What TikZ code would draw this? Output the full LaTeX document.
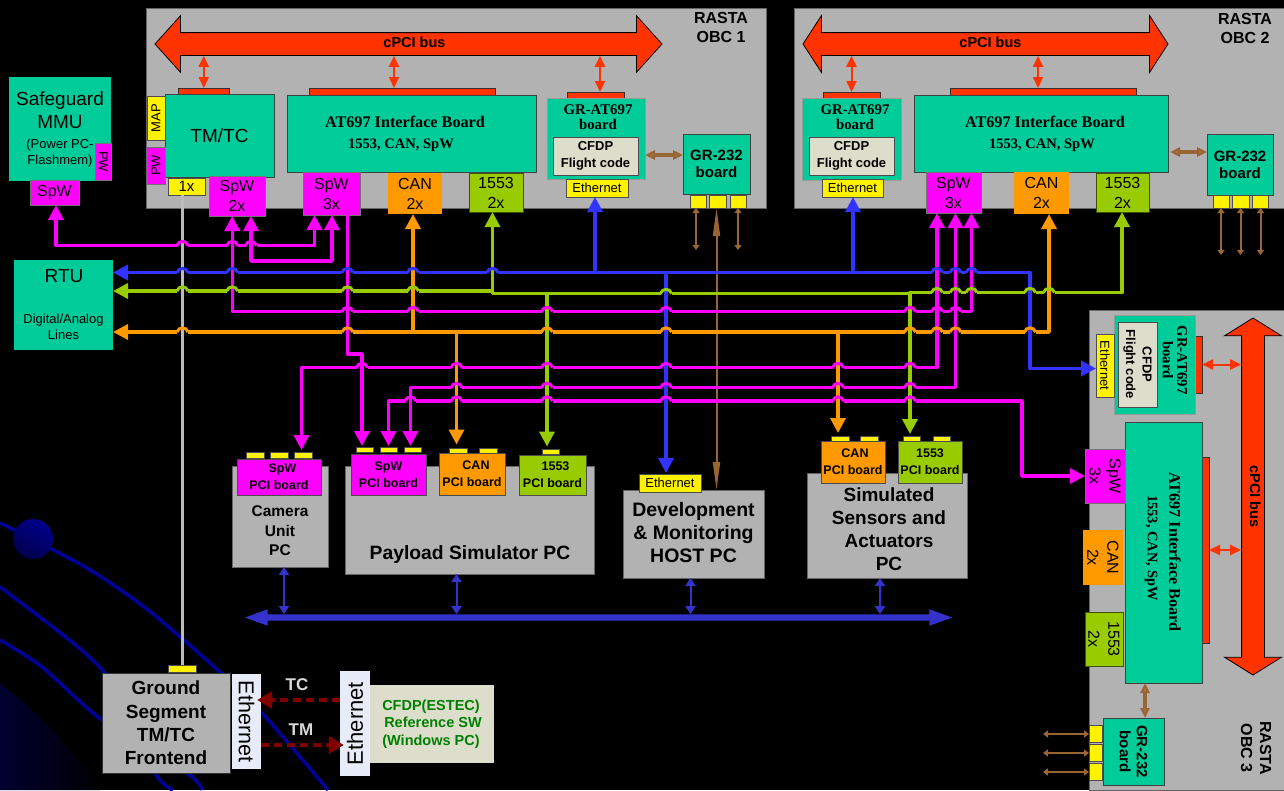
\documentclass[tikz,border=0pt]{standalone}
\usepackage{fontspec}
\usetikzlibrary{arrows.meta,shapes.arrows}
\setmainfont{Liberation Sans}
\newfontfamily\atfont{Liberation Serif}
\newcommand{\tsize}[2]{\fontsize{#1}{#2}\selectfont}
\definecolor{boardc}{HTML}{00CC99}
\definecolor{panelc}{HTML}{B2B2B2}
\definecolor{busc}{HTML}{FF3300}
\definecolor{magc}{HTML}{FF00FF}
\definecolor{orangec}{HTML}{FF9900}
\definecolor{limec}{HTML}{99CC00}
\definecolor{bluec}{HTML}{3333FF}
\definecolor{brownc}{HTML}{996633}
\definecolor{ethc}{HTML}{3333CC}
\definecolor{creamc}{HTML}{DDDDCC}
\definecolor{paperc}{HTML}{E8ECF8}
\definecolor{greyc}{HTML}{BBBBBB}
\definecolor{orbitc}{HTML}{000099}
\tikzset{wh/.style 2 args={minimum width=#1,minimum height=#2}}
% a horizontal line jumping over vertical ones: colour, y, list of x/colour
\newcommand{\hops}[3]{%
  \foreach \hx/\vc in {#3} {
    \fill[black] (\hx-5.5,#2-2.2) rectangle (\hx+5.5,#2+2.2);
    \draw[\vc, line width=3.5pt] (\hx,#2-3) -- (\hx,#2+3);
    \draw[#1, line width=3pt] (\hx-5.5,#2) .. controls (\hx-4,#2-5.5) and (\hx+4,#2-5.5) .. (\hx+5.5,#2);
  }}
\begin{document}
\begin{tikzpicture}[x=1pt, y=-1pt, >={Triangle[width=15pt,length=15pt]}, node distance=20pt]
    % Define node styles
    \tikzstyle{panel} = [rectangle, draw=black!60, fill=panelc, line width=.7pt, outer sep=0pt]
    \tikzstyle{board} = [rectangle, draw=black!75, fill=boardc, line width=.8pt, align=center, outer sep=0pt, inner sep=0pt]
    \tikzstyle{code} = [rectangle, draw=black!70, fill=creamc, line width=.8pt, align=center, inner sep=0pt, outer sep=0pt, font=\tsize{13}{16.5}\bfseries]
    \tikzstyle{magbox} = [rectangle, draw=black!55, fill=magc, line width=.6pt, align=center, inner sep=0pt, outer sep=0pt, font=\tsize{16}{20}]
    \tikzstyle{canbox} = [magbox, draw=none, fill=orangec]
    \tikzstyle{milbox} = [magbox, draw=black!60!limec, fill=limec]
    \tikzstyle{port} = [rectangle, draw=black!70, fill=yellow, line width=.6pt, inner sep=0pt, outer sep=0pt, font=\tsize{13}{15}]
    \tikzstyle{pcibox} = [magbox, draw=black!70, font=\tsize{12.5}{17}\bfseries]
    \tikzstyle{strip} = [rectangle, draw=black!80, fill=busc, line width=.8pt, inner sep=0pt, outer sep=0pt]
    \tikzstyle{bus} = [double arrow, draw=black, fill=busc, line width=.8pt, inner xsep=0pt, inner ysep=5pt, text height=9pt, text depth=3pt, double arrow head extend=17pt, font=\tsize{14.5}{15}\bfseries]
    \tikzstyle{lab} = [inner sep=0pt, align=center]
    \tikzstyle{atlab} = [lab, font=\atfont\tsize{16.2}{18}\bfseries]
    \tikzstyle{atsub} = [lab, font=\atfont\tsize{14.5}{16}\bfseries]
    \tikzstyle{grlab} = [lab, font=\atfont\tsize{14.8}{14.5}\bfseries]
    \tikzstyle{rastalab} = [lab, font=\tsize{16}{19}\bfseries]
    \tikzstyle{pclab} = [lab, font=\tsize{19}{23}\bfseries]
    \tikzstyle{line} = [line width=3.5pt, line join=round]
    \tikzstyle{redarrow} = [busc, line width=2pt, {Triangle[width=10pt,length=11pt]}-{Triangle[width=10pt,length=11pt]}]
    \tikzstyle{brownarrow} = [brownc, line width=2pt, {Triangle[width=7pt,length=5pt]}-{Triangle[width=7pt,length=5pt]}]
    \tikzstyle{brownfat} = [brownc, line width=3.5pt, {Triangle[width=9pt,length=10pt,open]}-{Triangle[width=9pt,length=10pt,open]}]
    \tikzstyle{etharrow} = [ethc, line width=2pt, {Triangle[width=10pt,length=8pt]}-{Triangle[width=10pt,length=8pt]}]
    \tikzstyle{darkline} = [line width=4pt, black!50!red, dash pattern=on 8pt off 5pt, -{Triangle[width=17pt,length=15pt]}, shorten >=-4pt]

    % Background
    \fill[black] (0,0) rectangle (1284,790);
    \useasboundingbox (0,0) rectangle (1284,790);
    \begin{scope}
      \clip (0,683) .. controls (40,715) and (75,750) .. (100,790) -- (0,790) -- cycle;
      \shade[shading angle=45, left color=black!78!blue, right color=black] (-20,680) rectangle (110,800);
    \end{scope}
    \draw[orbitc, line width=3.5pt] plot[smooth] coordinates {(0,523) (85,567) (148,610) (220,672) (262,713) (328,790)};
    \draw[orbitc, line width=3.5pt] plot[smooth] coordinates {(0,587) (85,653) (125,700) (155,773) (173,790)};
    \draw[orbitc, line width=3.5pt] plot[smooth] coordinates {(0,640) (42,667) (102,720) (187,773) (202,790)};
    \node[circle, minimum size=40pt, left color=black!45!blue, right color=black!70!blue, shading angle=-30] (planet) at (33,539) {};

    % OBC 1
    \node[panel, wh={620}{200}] (obca) at (456,108) {};
    \node[rastalab] (obcalab) at (721,27.5) {RASTA\\OBC 1};
    \node[bus, minimum height=507pt, double arrow tip angle=96] (busa) at (408.5,44) {\hspace*{12pt}cPCI bus};
    \node[strip, wh={51}{6}] (stripa) at (203.75,91) {};
    \node[strip, wh={186}{7}] (stripb) at (402,91.5) {};
    \node[strip, wh={57}{6}] (stripc) at (595.5,95) {};
    \node[board, wh={109}{83}, font=\tsize{19}{22}] (tmtc) at (219.5,135.5) {TM/TC};
    \node[port, wh={44}{18}, rotate=90] (mapport) at (156,118) {MAP};
    \node[magbox, wh={37}{18}, rotate=90, font=\tsize{13}{15}] (pwport) at (156,165.5) {PW};
    \node[port, wh={37}{17}, font=\tsize{15}{17}] (oneport) at (186.5,186.5) {1x};
    \node[magbox, wh={56}{40}] (spwa) at (237,196) {SpW\\2x};
    \node[board, wh={249}{77}] (ata) at (411.5,133.5) {};
    \node[atlab] (atalab) at (405,122) {AT697 Interface Board};
    \node[atsub] (atasub) at (401,145) {1553, CAN, SpW};
    \node[magbox, wh={57}{43}] (spwb) at (331.5,193.5) {SpW\\3x};
    \node[canbox, wh={54}{41}] (cana) at (415,193.5) {CAN\\2x};
    \node[milbox, wh={54}{39}] (mila) at (496,192.5) {1553\\2x};
    \node[board, wh={98}{81}, draw=black!40] (gra) at (596,138.5) {};
    \node[grlab] (gralab) at (598,117) {GR-AT697\\board};
    \node[code, wh={85}{38}] (cfdpa) at (595.5,156) {CFDP\\Flight code};
    \node[port, wh={62}{18}] (etha) at (597,188) {Ethernet};
    \node[board, wh={67}{60}, font=\tsize{15}{17}\bfseries] (serb) at (716.5,164) {GR-232\\board};
    \node[port, wh={16}{13}] (sera) at (698,201.5) {};
    \node[port, wh={17}{13}] (serc) [right of=sera] {};
    \node[port, wh={16}{13}] (serd) [right of=serc] {};

    % OBC 2
    \node[panel, wh={490}{200}] (obcb) at (1039,108) {};
    \node[rastalab] (obcblab) at (1245,28.5) {RASTA\\OBC 2};
    \node[bus, minimum height=365pt, double arrow tip angle=114] (busb) at (985.5,44) {\hspace*{10pt}cPCI bus};
    \node[strip, wh={57}{6}] (stripd) at (851.5,95) {};
    \node[strip, wh={186}{7}] (stripe) at (1043,91.5) {};
    \node[board, wh={99}{82}, draw=black!40] (grb) at (851.5,139) {};
    \node[grlab] (grblab) at (855,117) {GR-AT697\\board};
    \node[code, wh={85}{38}] (cfdpb) at (851.5,156) {CFDP\\Flight code};
    \node[port, wh={61}{18}] (ethb) at (852.5,188) {Ethernet};
    \node[board, wh={254}{77}] (atb) at (1041,133.5) {};
    \node[atlab] (atblab) at (1045,122) {AT697 Interface Board};
    \node[atsub] (atbsub) at (1042,145) {1553, CAN, SpW};
    \node[magbox, wh={55}{41}] (spwc) at (953.5,192.5) {SpW\\3x};
    \node[canbox, wh={55}{42}] (canb) at (1041.5,193) {CAN\\2x};
    \node[milbox, wh={53}{39}] (milb) at (1122.5,192.5) {1553\\2x};
    \node[board, wh={66}{61}, font=\tsize{15}{17}\bfseries] (serf) at (1240,164.5) {GR-232\\board};
    \node[port, wh={16}{13}] (sere) at (1221,201.5) {};
    \node[port, wh={17}{13}] (serg) [right of=sere, xshift=-.5pt] {};
    \node[port, wh={16}{13}] (serh) [right of=serg] {};

    % OBC 3
    \node[panel, wh={195}{480}] (obcc) at (1186.5,550) {};
    \node[rastalab, rotate=-90] (obcclab) at (1256,748) {RASTA\\OBC 3};
    \node[bus, rotate=-90, minimum height=357pt, double arrow tip angle=116] (busc) at (1253,496.5) {cPCI bus};
    \node[strip, wh={7}{57}] (stripf) at (1198.5,364.5) {};
    \node[strip, wh={7}{186}] (stripg) at (1205.5,550) {};
    \node[board, wh={99}{81}, rotate=-90, draw=black!40] (grc) at (1154.5,364.5) {};
    \node[grlab, rotate=-90] (grclab) at (1175,360) {GR-AT697\\board};
    \node[code, wh={85}{39}, rotate=-90] (cfdpc) at (1137.5,364.5) {CFDP\\Flight code};
    \node[port, wh={63}{18}, rotate=-90] (ethc) at (1105,365.5) {Ethernet};
    \node[board, wh={261}{77}, rotate=-90] (atc) at (1163.5,552.5) {};
    \node[atlab, rotate=-90] (atclab) at (1175,552) {AT697 Interface Board};
    \node[atsub, rotate=-90] (atcsub) at (1151,548) {1553, CAN, SpW};
    \node[magbox, wh={54}{40}, rotate=-90] (spwd) at (1105,476) {SpW\\3x};
    \node[canbox, wh={55}{40}, rotate=-90] (canc) at (1103,557.5) {CAN\\2x};
    \node[milbox, wh={54}{38}, rotate=-90] (milc) at (1104,639) {1553\\2x};
    \node[board, wh={67}{61}, rotate=-90, font=\tsize{15}{17}\bfseries] (serk) at (1133.5,751.5) {GR-232\\board};
    \node[port, wh={13}{17}] (seri) at (1095.5,734) {};
    \node[port, wh={13}{17}] (serj) at (1095.5,753) {};
    \node[port, wh={13}{17}] (serl) at (1095.5,772) {};

    % Safeguard and RTU
    \node[board, wh={102}{104}, draw=none, font=\tsize{19}{23}] (mmu) at (60,129) {Safeguard\\MMU\\[-3pt]{\tsize{13}{16}(Power PC-}\\[-7pt]{\tsize{13}{16}Flashmem)}};
    \node[magbox, wh={37}{15.5}, rotate=-90, font=\tsize{13}{15}] (mmupw) at (103.25,161.5) {PW};
    \node[magbox, wh={49}{25}] (mmuspw) at (54.5,192.5) {SpW};
    \node[board, wh={99}{90}, draw=none] (rtu) at (63.5,305) {};
    \node[lab, font=\tsize{19}{22}] (rtulab) at (64,276) {RTU};
    \node[lab, font=\tsize{13}{15.5}] (rtusub) at (63.5,327) {Digital/Analog\\Lines};

    % PCs
    \node[panel, wh={96}{101}] (campc) at (280,516.5) {};
    \node[pcibox, wh={84}{36}] (cambox) at (279,477) {\hspace*{7pt}SpW\\PCI board};
    \node[port, wh={18}{6}] (camporta) at (255,455) {};
    \node[port, wh={18}{6}] (camportb) [right of=camporta, xshift=4pt] {};
    \node[port, wh={18}{6}] (camportc) [right of=camportb, xshift=4pt] {};
    \node[pclab, font=\tsize{15.5}{19.5}\bfseries] (camlab) at (280,531) {Camera\\Unit\\PC};
    \node[panel, wh={249}{108}] (paypc) at (469.5,520) {};
    \node[pcibox, wh={75}{41}] (paybox) at (388.5,474.5) {SpW\\PCI board};
    \node[port, wh={17}{5}] (payporta) at (364.5,449.5) {};
    \node[port, wh={17}{5}] (payportb) [right of=payporta, xshift=4pt] {};
    \node[port, wh={17}{5}] (payportc) [right of=payportb, xshift=4pt] {};
    \node[pcibox, fill=orangec, wh={66}{42}] (paycan) at (472,474) {\hspace*{8pt}CAN\\PCI board};
    \node[port, wh={18}{5}] (paycanport) at (458,450.5) {};
    \node[port, wh={18}{5}] (paycanporb) at (488,450.5) {};
    \node[pcibox, fill=limec, wh={67}{40}] (paymil) at (552.5,475) {\hspace*{6pt}1553\\PCI board};
    \node[port, wh={17}{5}] (paymilport) at (550.5,451.5) {};
    \node[pclab, font=\tsize{19.3}{23}\bfseries] (paylab) at (470,555) {Payload Simulator PC};
    \node[panel, wh={141}{88}] (devpc) at (693.5,534) {};
    \node[port, wh={62}{18}] (deveth) at (670,483) {Ethernet};
    \node[pclab, font=\tsize{19.5}{23}\bfseries] (devlab) at (693.5,533) {Development\\\& Monitoring\\HOST PC};
    \node[panel, wh={160}{105}] (simpc) at (887,525.5) {};
    \node[pcibox, fill=orangec, wh={64}{42}] (simcan) at (853,462) {\hspace*{4pt}CAN\\PCI board};
    \node[port, wh={18}{5}] (simcanport) at (840,438.5) {};
    \node[port, wh={18}{5}] (simcanporb) at (869,438.5) {};
    \node[pcibox, fill=limec, wh={64}{42}] (simmil) at (930,462) {1553\\PCI board};
    \node[port, wh={17}{5}] (simmilport) at (911.5,438.5) {};
    \node[port, wh={17}{5}] (simmilporb) at (941.5,438.5) {};
    \node[pclab] (simlab) at (889,529.5) {Simulated\\Sensors and\\Actuators\\PC};
    \node[double arrow, fill=ethc, inner sep=3pt, double arrow head extend=5pt, double arrow tip angle=40, minimum height=707pt] (ethbus) at (598.5,617.5) {};

    % Ground segment
    \node[panel, wh={128}{100}, draw=black!80, font=\tsize{19}{23.3}\bfseries, align=center, inner sep=0pt] (ground) at (166,723) {Ground\\Segment\\TM/TC\\Frontend};
    \node[port, wh={28}{7}] (groundport) at (182.5,668.5) {};
    \node[lab, rectangle, fill=paperc, wh={95}{29}, rotate=-90, font=\tsize{21.5}{23}] (ethl) at (246.5,721.5) {Ethernet};
    \node[code, fill=creamc, draw=none, wh={126}{78}, text=green!50!black, font=\tsize{14.5}{17.5}\bfseries] (refsw) at (431,724) {CFDP(ESTEC)\\\hspace*{4pt}Reference SW\\(Windows PC)};
    \node[lab, rectangle, fill=paperc, wh={105}{30}, rotate=90, font=\tsize{22}{24}] (ethr) at (355,723.5) {Ethernet};
    \node[lab, text=black!15, font=\tsize{17}{19}\bfseries] (tclab) at (297,685) {TC};
    \node[lab, text=black!15, font=\tsize{17}{19}\bfseries] (tmlab) at (301,730) {TM};

    % Junctions and free ends
    \coordinate (bluea) at (595,272.5);
    \coordinate (blueb) at (853,272.5);
    \coordinate (bluec) at (666,272.5);
    \coordinate (limea) at (492.5,291);
    \coordinate (limeb) at (547,293.5);
    \coordinate (limec) at (910,293.5);
    \coordinate (orangea) at (413,332);
    \coordinate (orangeb) at (456.5,332);
    \coordinate (orangec) at (838,332);
    \coordinate (freea) at (696,250);
    \coordinate (freeb) at (738,250);
    \coordinate (freec) at (1221,255);
    \coordinate (freed) at (1240.5,255);
    \coordinate (freee) at (1260.5,255);
    \coordinate (freef) at (1043,734);
    \coordinate (freeg) at (1043,753);
    \coordinate (freeh) at (1043,772);

    % Edges (cPCI)
    \draw[redarrow] (stripa.north) -- (stripa.north |- busa.south);
    \draw[redarrow] ([xshift=-8pt]stripb.north) -- ([xshift=-8pt]stripb.north |- busa.south);
    \draw[redarrow] ([xshift=4.5pt]stripc.north) -- ([xshift=4.5pt]stripc.north |- busa.south);
    \draw[redarrow] (stripd.north) -- (stripd.north |- busb.south);
    \draw[redarrow] ([xshift=-5pt]stripe.north) -- ([xshift=-5pt]stripe.north |- busb.south);
    \draw[redarrow] (stripf.east) -- (stripf.east -| busc.south);
    \draw[redarrow] (stripg.east) -- (stripg.east -| busc.south);

    % Edges (brown)
    \draw[brownfat] ([yshift=-16.5pt]gra.east) -- ([yshift=9pt]serb.west);
    \draw[brownfat] ([xshift=2pt,yshift=-18.5pt]atb.east) -- ([yshift=12.5pt]serf.west);
    \draw[brownfat] ([xshift=-18.5pt]atc.east) -- ([xshift=11.5pt]serk.west);
    \draw[brownarrow] ([xshift=-2pt]sera.south) -- (freea);
    \draw[brownarrow] (serd.south) -- (freeb);
    \draw[brownarrow] (sere.south) -- (freec);
    \draw[brownarrow] (serg.south) -- (freed);
    \draw[brownarrow] (serh.south) -- (freee);
    \draw[brownarrow] (seri.west) -- (freef);
    \draw[brownarrow] (serj.west) -- (freeg);
    \draw[brownarrow] (serl.west) -- (freeh);
    \draw[brownc, line width=2pt, {Triangle[width=7pt,length=28pt]}-{Triangle[width=7pt,length=28pt]}] ([xshift=-1.5pt]serc.south) -- ([xshift=-1.5pt]serc.south |- devpc.north);

    % Edges (ground link, serial bus)
    \draw[greyc, line width=3.5pt] ([xshift=-4pt]oneport.south) -- (groundport.north);
    \draw[darkline] ([yshift=23.5pt]ethr.north) -- ([yshift=21.5pt]ethl.north);
    \draw[darkline] ([yshift=-23.5pt]ethl.north) -- ([yshift=-21.5pt]ethr.north);
    \draw[etharrow] ([xshift=4pt]campc.south) -- ([xshift=4pt]campc.south |- ethbus.north);
    \draw[etharrow] ([xshift=-13pt]paypc.south) -- ([xshift=-13pt]paypc.south |- ethbus.north);
    \draw[etharrow] ([xshift=-3pt]devpc.south) -- ([xshift=-3pt]devpc.south |- ethbus.north);
    \draw[etharrow] ([xshift=-7pt]simpc.south) -- ([xshift=-7pt]simpc.south |- ethbus.north);

    % Edges (blue)
    \draw[line, bluec, ->] (bluea) -- ([xshift=-2pt]etha.south);
    \draw[line, bluec, ->] (blueb) -- ([xshift=.5pt]ethb.south);
    \draw[line, bluec, ->, shorten >=1pt] (bluec) -- ([xshift=-4pt]deveth.north);
    \draw[line, bluec, <->] ([yshift=32.5pt]rtu.east) -- (1030,272.5) -- (1030,368.5) -- ([yshift=-3pt]ethc.south);

    % Edges (green)
    \draw[line, limec, ->] (limea) -- ([xshift=-3.5pt]mila.south);
    \draw[line, limec, ->, shorten >=2.5pt] (limeb) -- ([xshift=-3.5pt]paymilport.north);
    \draw[line, limec, ->, shorten >=2pt] (limec) -- ([xshift=-1.5pt]simmilport.north);
    \draw[line, limec, <->] ([yshift=14pt]rtu.east) -- (limea) -- (492.5,293.5) -- (910,293.5) -- (910,292.5) -- (1122,292.5) -- ([xshift=-.5pt]milb.south);

    % Edges (orange)
    \draw[line, orangec, ->] (orangea) -- ([xshift=-2pt]cana.south);
    \draw[line, orangec, ->, shorten >=3.5pt] (orangeb) -- ([xshift=-1.5pt]paycanport.north);
    \draw[line, orangec, ->, shorten >=3pt] (orangec) -- ([xshift=-2pt]simcanport.north);
    \draw[line, orangec, <->] ([yshift=-27pt]rtu.east) -- (1049,332) -- ([xshift=7.5pt]canb.south);

    % Edges (SpaceWire)
    \draw[line, magc, <->] ([xshift=1.5pt]mmuspw.south) -- (56,245.5) -- (314.5,245.5) -- ([xshift=-17pt]spwb.south);
    \draw[line, magc, <->] ([xshift=14pt]spwa.south) -- (251,261) -- (332,261) -- ([xshift=.5pt]spwb.south);
    \draw[line, magc, <->] ([xshift=-4.75pt]spwa.south) -- (232.25,311.5) -- (971.5,311.5) -- ([xshift=18pt]spwc.south);
    \draw[line, magc, ->, shorten >=1pt] ([xshift=16pt]spwb.south) -- (347.5,354) -- (362,354) -- ([xshift=-2.5pt]payporta.north);
    \draw[line, magc, <->, shorten <=2pt] ([xshift=-1.5pt]camportc.north) -- (301.5,367.5) -- (937,367.5) -- ([xshift=-16.5pt]spwc.south);
    \draw[line, magc, <->, shorten <=1pt] ([xshift=-2pt]payportc.north) -- (410.5,387.5) -- (955.5,387.5) -- ([xshift=2pt]spwc.south);
    \draw[line, magc, <->, shorten <=1pt] (payportb.north) -- (388.5,401) -- (1022,401) -- (1022,476) -- (spwd.south);

    % Edges (jumps)
    \hops{bluec}{272.5}{182.5/greyc, 232.25/magc, 347.5/magc, 413/orangec, 492.5/limec, 937/magc, 955.5/magc, 971.5/magc}
    \hops{limec}{291}{182.5/greyc, 232.25/magc, 347.5/magc, 413/orangec}
    \hops{limec}{293.5}{666/bluec}
    \hops{limec}{292.5}{937/magc, 955.5/magc, 971.5/magc, 1030/bluec, 1049/orangec}
    \hops{magc}{311.5}{347.5/magc, 413/orangec, 547/limec, 666/bluec, 910/limec, 937/magc, 955.5/magc}
    \hops{orangec}{332}{182.5/greyc, 347.5/magc, 547/limec, 666/bluec, 910/limec, 937/magc, 955.5/magc, 1030/bluec}
    \hops{magc}{245.5}{182.5/greyc, 232.25/magc, 251/magc}
    \hops{magc}{367.5}{362/magc, 456.5/orangec, 547/limec, 666/bluec, 838/orangec, 910/limec}
    \hops{magc}{387.5}{456.5/orangec, 547/limec, 666/bluec, 838/orangec, 910/limec}
    \hops{magc}{401}{410.5/magc, 456.5/orangec, 547/limec, 666/bluec, 838/orangec, 910/limec}
\end{tikzpicture}
\end{document}
